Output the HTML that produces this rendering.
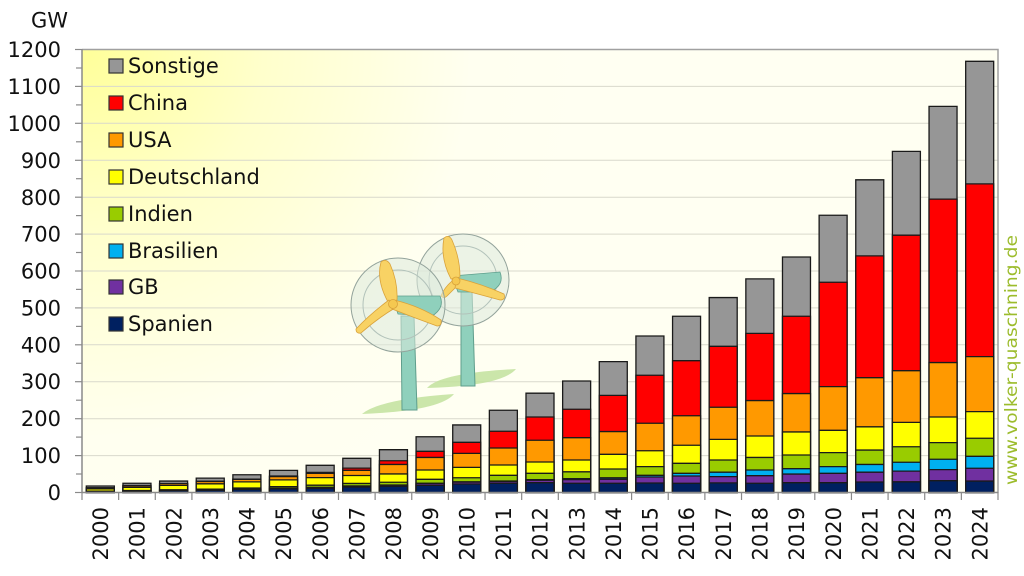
<!DOCTYPE html>
<html>
<head>
<meta charset="utf-8">
<style>
html,body{margin:0;padding:0;background:#fff;}
svg{display:block;}
text{font-family:"DejaVu Sans","Liberation Sans",sans-serif;fill:#111;}
.bars rect{vector-effect:non-scaling-stroke;stroke:#1a1a1a;stroke-width:1.3;}
.s{fill:#969696}.c{fill:#ff0000}.u{fill:#ff9900}.d{fill:#ffff00}
.i{fill:#99cc00}.b{fill:#00b0f0}.g{fill:#7030a0}.e{fill:#002060}
</style>
</head>
<body>
<svg width="1024" height="576" viewBox="0 0 1024 576" xmlns="http://www.w3.org/2000/svg">
<defs>
<radialGradient id="bg" cx="82" cy="49" r="520" gradientUnits="userSpaceOnUse">
<stop offset="0" stop-color="#ffff99"/>
<stop offset="0.35" stop-color="#ffffcc"/>
<stop offset="0.75" stop-color="#fffff0"/>
<stop offset="1" stop-color="#fffff2"/>
</radialGradient>
</defs>
<rect x="82" y="49.5" width="916" height="443" fill="url(#bg)"/>
<!-- gridlines -->
<g stroke="#d9d9cc" stroke-width="1">
<line x1="82" x2="998" y1="455.6" y2="455.6"/>
<line x1="82" x2="998" y1="418.7" y2="418.7"/>
<line x1="82" x2="998" y1="381.7" y2="381.7"/>
<line x1="82" x2="998" y1="344.8" y2="344.8"/>
<line x1="82" x2="998" y1="307.9" y2="307.9"/>
<line x1="82" x2="998" y1="271.0" y2="271.0"/>
<line x1="82" x2="998" y1="234.1" y2="234.1"/>
<line x1="82" x2="998" y1="197.2" y2="197.2"/>
<line x1="82" x2="998" y1="160.3" y2="160.3"/>
<line x1="82" x2="998" y1="123.3" y2="123.3"/>
<line x1="82" x2="998" y1="86.4" y2="86.4"/>
</g>
<!-- plot border -->
<polyline points="82,49.5 998,49.5 998,492.5" fill="none" stroke="#a0a0a0" stroke-width="1.5"/>

<!-- wind turbines -->
<g>
<path d="M427,388 Q440,373 516,369 Q502,386 427,388 Z" fill="#c2e29e" opacity="0.85"/>
<polygon points="461,290 472,290 475,386 461,386" fill="#8fd0bc" stroke="#5f9e8c" stroke-width="1"/>
<circle cx="463" cy="280" r="46" fill="#dde9dc" fill-opacity="0.55" stroke="#93a39b" stroke-width="1"/>
<circle cx="463" cy="280" r="34" fill="none" stroke="#b2c2ba" stroke-width="1"/>
<path d="M452,276 L500,272 Q505,285 490,292 L458,292 Z" fill="#8fd0bc" stroke="#5f9e8c" stroke-width="0.8"/>
<path d="M451,279 Q440,258 444,238 Q449,234 452,240 Q460,258 460,277 Z" fill="#f8d264" stroke="#d9a23a" stroke-width="0.8"/>
<path d="M452,281 Q444,288 441,296 Q444,299 447,296 Q453,290 458,285 Z" fill="#f8d264" stroke="#d9a23a" stroke-width="0.8"/>
<path d="M457,278 Q482,284 504,294 Q506,300 500,300 Q478,294 455,288 Z" fill="#f8d264" stroke="#d9a23a" stroke-width="0.8"/>
<circle cx="456" cy="281" r="4" fill="#f5c850" stroke="#d9a23a" stroke-width="0.8"/>

<path d="M362,414 Q380,399 454,394 Q440,411 362,414 Z" fill="#c2e29e" opacity="0.85"/>
<polygon points="401,316 414,316 417,410 402,410" fill="#8fd0bc" stroke="#5f9e8c" stroke-width="1"/>
<circle cx="398" cy="305" r="47" fill="#dde9dc" fill-opacity="0.55" stroke="#93a39b" stroke-width="1"/>
<circle cx="398" cy="305" r="35" fill="none" stroke="#b2c2ba" stroke-width="1"/>
<path d="M392,296 L440,296 Q445,308 432,316 L398,314 Z" fill="#8fd0bc" stroke="#5f9e8c" stroke-width="0.8"/>
<path d="M388,302 Q376,280 381,262 Q386,258 390,264 Q398,282 397,300 Z" fill="#f8d264" stroke="#d9a23a" stroke-width="0.8"/>
<path d="M389,300 Q370,314 356,329 Q356,334 361,333 Q378,318 395,308 Z" fill="#f8d264" stroke="#d9a23a" stroke-width="0.8"/>
<path d="M394,300 Q420,306 441,320 Q442,326 437,326 Q415,318 392,309 Z" fill="#f8d264" stroke="#d9a23a" stroke-width="0.8"/>
<circle cx="393" cy="304" r="4.5" fill="#f5c850" stroke="#d9a23a" stroke-width="0.8"/>
</g>

<!-- bars -->
<g class="bars" transform="translate(0,492.5) scale(1,-0.369167)">
<g transform="translate(86.32,0)"><rect class="s" width="28" height="17.6"/><rect class="c" width="28" height="12.75"/><rect class="u" width="28" height="12.4"/><rect class="d" width="28" height="9.9"/><rect class="i" width="28" height="3.8"/><rect class="g" width="28" height="2.6"/><rect class="e" width="28" height="2.2"/></g>
<g transform="translate(122.96,0)"><rect class="s" width="28" height="25"/><rect class="c" width="28" height="18.8"/><rect class="u" width="28" height="18.4"/><rect class="d" width="28" height="14.1"/><rect class="i" width="28" height="5.3"/><rect class="g" width="28" height="3.8"/><rect class="e" width="28" height="3.3"/></g>
<g transform="translate(159.60,0)"><rect class="s" width="28" height="31"/><rect class="c" width="28" height="24.45"/><rect class="u" width="28" height="23.95"/><rect class="d" width="28" height="19.25"/><rect class="i" width="28" height="7.25"/><rect class="g" width="28" height="5.55"/><rect class="e" width="28" height="5"/></g>
<g transform="translate(196.24,0)"><rect class="s" width="28" height="39"/><rect class="c" width="28" height="30.55"/><rect class="u" width="28" height="29.95"/><rect class="d" width="28" height="23.55"/><rect class="i" width="28" height="8.95"/><rect class="g" width="28" height="6.85"/><rect class="e" width="28" height="6.2"/></g>
<g transform="translate(232.88,0)"><rect class="s" width="28" height="48"/><rect class="c" width="28" height="36.3"/><rect class="u" width="28" height="35.5"/><rect class="d" width="28" height="28.8"/><rect class="i" width="28" height="12.2"/><rect class="g" width="28" height="9.2"/><rect class="e" width="28" height="8.3"/></g>
<g transform="translate(269.52,0)"><rect class="s" width="28" height="60"/><rect class="c" width="28" height="44.5"/><rect class="u" width="28" height="43.2"/><rect class="d" width="28" height="34.1"/><rect class="i" width="28" height="15.7"/><rect class="g" width="28" height="11.3"/><rect class="e" width="28" height="10"/></g>
<g transform="translate(306.16,0)"><rect class="s" width="28" height="73.7"/><rect class="c" width="28" height="54.5"/><rect class="u" width="28" height="51.9"/><rect class="d" width="28" height="40.3"/><rect class="i" width="28" height="19.8"/><rect class="b" width="28" height="13.8"/><rect class="g" width="28" height="13.6"/><rect class="e" width="28" height="11.6"/></g>
<g transform="translate(342.80,0)"><rect class="s" width="28" height="92.6"/><rect class="c" width="28" height="66.1"/><rect class="u" width="28" height="60.1"/><rect class="d" width="28" height="46.1"/><rect class="i" width="28" height="24.6"/><rect class="b" width="28" height="17.6"/><rect class="g" width="28" height="17.4"/><rect class="e" width="28" height="15"/></g>
<g transform="translate(379.44,0)"><rect class="s" width="28" height="116"/><rect class="c" width="28" height="86"/><rect class="u" width="28" height="76"/><rect class="d" width="28" height="50.3"/><rect class="i" width="28" height="27.8"/><rect class="b" width="28" height="20.3"/><rect class="g" width="28" height="20"/><rect class="e" width="28" height="17"/></g>
<g transform="translate(416.08,0)"><rect class="s" width="28" height="151"/><rect class="c" width="28" height="111.6"/><rect class="u" width="28" height="95"/><rect class="d" width="28" height="61"/><rect class="i" width="28" height="35.7"/><rect class="b" width="28" height="25.1"/><rect class="g" width="28" height="24.5"/><rect class="e" width="28" height="19.5"/></g>
<g transform="translate(452.72,0)"><rect class="s" width="28" height="183"/><rect class="c" width="28" height="136"/><rect class="u" width="28" height="106"/><rect class="d" width="28" height="68"/><rect class="i" width="28" height="40"/><rect class="b" width="28" height="29"/><rect class="g" width="28" height="28.2"/><rect class="e" width="28" height="23"/></g>
<g transform="translate(489.36,0)"><rect class="s" width="28" height="222.7"/><rect class="c" width="28" height="166"/><rect class="u" width="28" height="120.6"/><rect class="d" width="28" height="74.5"/><rect class="i" width="28" height="46.6"/><rect class="b" width="28" height="31"/><rect class="g" width="28" height="30"/><rect class="e" width="28" height="25"/></g>
<g transform="translate(526.00,0)"><rect class="s" width="28" height="269"/><rect class="c" width="28" height="204.6"/><rect class="u" width="28" height="141.5"/><rect class="d" width="28" height="82.7"/><rect class="i" width="28" height="52"/><rect class="b" width="28" height="34.7"/><rect class="g" width="28" height="33.1"/><rect class="e" width="28" height="26.6"/></g>
<g transform="translate(562.64,0)"><rect class="s" width="28" height="302"/><rect class="c" width="28" height="225.5"/><rect class="u" width="28" height="148.5"/><rect class="d" width="28" height="88"/><rect class="i" width="28" height="56"/><rect class="b" width="28" height="37.4"/><rect class="g" width="28" height="34.9"/><rect class="e" width="28" height="25"/></g>
<g transform="translate(599.28,0)"><rect class="s" width="28" height="354.5"/><rect class="c" width="28" height="263"/><rect class="u" width="28" height="165"/><rect class="d" width="28" height="103.5"/><rect class="i" width="28" height="63.7"/><rect class="b" width="28" height="40"/><rect class="g" width="28" height="36"/><rect class="e" width="28" height="25"/></g>
<g transform="translate(635.92,0)"><rect class="s" width="28" height="424"/><rect class="c" width="28" height="317.6"/><rect class="u" width="28" height="187.5"/><rect class="d" width="28" height="113"/><rect class="i" width="28" height="70"/><rect class="b" width="28" height="46.6"/><rect class="g" width="28" height="42"/><rect class="e" width="28" height="25.7"/></g>
<g transform="translate(672.56,0)"><rect class="s" width="28" height="477.5"/><rect class="c" width="28" height="357"/><rect class="u" width="28" height="208"/><rect class="d" width="28" height="128"/><rect class="i" width="28" height="79"/><rect class="b" width="28" height="52"/><rect class="g" width="28" height="44.7"/><rect class="e" width="28" height="25"/></g>
<g transform="translate(709.20,0)"><rect class="s" width="28" height="528"/><rect class="c" width="28" height="396"/><rect class="u" width="28" height="231"/><rect class="d" width="28" height="144"/><rect class="i" width="28" height="88"/><rect class="b" width="28" height="55"/><rect class="g" width="28" height="43"/><rect class="e" width="28" height="26"/></g>
<g transform="translate(745.84,0)"><rect class="s" width="28" height="578.6"/><rect class="c" width="28" height="431"/><rect class="u" width="28" height="249"/><rect class="d" width="28" height="153"/><rect class="i" width="28" height="95"/><rect class="b" width="28" height="61"/><rect class="g" width="28" height="45.6"/><rect class="e" width="28" height="25"/></g>
<g transform="translate(782.48,0)"><rect class="s" width="28" height="638"/><rect class="c" width="28" height="477.5"/><rect class="u" width="28" height="268"/><rect class="d" width="28" height="164"/><rect class="i" width="28" height="101.6"/><rect class="b" width="28" height="64.5"/><rect class="g" width="28" height="50"/><rect class="e" width="28" height="26.6"/></g>
<g transform="translate(819.12,0)"><rect class="s" width="28" height="751"/><rect class="c" width="28" height="569.6"/><rect class="u" width="28" height="286.7"/><rect class="d" width="28" height="168.5"/><rect class="i" width="28" height="108"/><rect class="b" width="28" height="70"/><rect class="g" width="28" height="52"/><rect class="e" width="28" height="26.6"/></g>
<g transform="translate(855.76,0)"><rect class="s" width="28" height="847"/><rect class="c" width="28" height="641"/><rect class="u" width="28" height="311"/><rect class="d" width="28" height="178"/><rect class="i" width="28" height="115"/><rect class="b" width="28" height="76"/><rect class="g" width="28" height="55"/><rect class="e" width="28" height="28.5"/></g>
<g transform="translate(892.40,0)"><rect class="s" width="28" height="924"/><rect class="c" width="28" height="697"/><rect class="u" width="28" height="330"/><rect class="d" width="28" height="190"/><rect class="i" width="28" height="124"/><rect class="b" width="28" height="82"/><rect class="g" width="28" height="58"/><rect class="e" width="28" height="29"/></g>
<g transform="translate(929.04,0)"><rect class="s" width="28" height="1046"/><rect class="c" width="28" height="794.6"/><rect class="u" width="28" height="352"/><rect class="d" width="28" height="204.6"/><rect class="i" width="28" height="135"/><rect class="b" width="28" height="90"/><rect class="g" width="28" height="62"/><rect class="e" width="28" height="32"/></g>
<g transform="translate(965.68,0)"><rect class="s" width="28" height="1168"/><rect class="c" width="28" height="836"/><rect class="u" width="28" height="368"/><rect class="d" width="28" height="219"/><rect class="i" width="28" height="147"/><rect class="b" width="28" height="98"/><rect class="g" width="28" height="65.6"/><rect class="e" width="28" height="31"/></g>
</g>

<!-- axes -->
<g stroke="#8a8a8a" stroke-width="1.5" fill="none">
<line x1="82" y1="49" x2="82" y2="493"/>
<line x1="82" y1="492.5" x2="998" y2="492.5"/>
</g>
<g stroke="#8a8a8a" stroke-width="1.2">
<line x1="75" x2="82" y1="492.5" y2="492.5"/><line x1="76" x2="82" y1="474" y2="474"/>
<line x1="75" x2="82" y1="455.6" y2="455.6"/><line x1="76" x2="82" y1="437.1" y2="437.1"/>
<line x1="75" x2="82" y1="418.7" y2="418.7"/><line x1="76" x2="82" y1="400.2" y2="400.2"/>
<line x1="75" x2="82" y1="381.7" y2="381.7"/><line x1="76" x2="82" y1="363.3" y2="363.3"/>
<line x1="75" x2="82" y1="344.8" y2="344.8"/><line x1="76" x2="82" y1="326.4" y2="326.4"/>
<line x1="75" x2="82" y1="307.9" y2="307.9"/><line x1="76" x2="82" y1="289.4" y2="289.4"/>
<line x1="75" x2="82" y1="271.0" y2="271.0"/><line x1="76" x2="82" y1="252.5" y2="252.5"/>
<line x1="75" x2="82" y1="234.1" y2="234.1"/><line x1="76" x2="82" y1="215.6" y2="215.6"/>
<line x1="75" x2="82" y1="197.2" y2="197.2"/><line x1="76" x2="82" y1="178.7" y2="178.7"/>
<line x1="75" x2="82" y1="160.3" y2="160.3"/><line x1="76" x2="82" y1="141.8" y2="141.8"/>
<line x1="75" x2="82" y1="123.3" y2="123.3"/><line x1="76" x2="82" y1="104.9" y2="104.9"/>
<line x1="75" x2="82" y1="86.4" y2="86.4"/><line x1="76" x2="82" y1="68.0" y2="68.0"/>
<line x1="75" x2="82" y1="49.5" y2="49.5"/>
</g>
<g stroke="#8a8a8a" stroke-width="1.2">
<line x1="82" x2="82" y1="492" y2="500"/>
<line x1="118.64" x2="118.64" y1="492" y2="500"/><line x1="155.28" x2="155.28" y1="492" y2="500"/>
<line x1="191.92" x2="191.92" y1="492" y2="500"/><line x1="228.56" x2="228.56" y1="492" y2="500"/>
<line x1="265.2" x2="265.2" y1="492" y2="500"/><line x1="301.84" x2="301.84" y1="492" y2="500"/>
<line x1="338.48" x2="338.48" y1="492" y2="500"/><line x1="375.12" x2="375.12" y1="492" y2="500"/>
<line x1="411.76" x2="411.76" y1="492" y2="500"/><line x1="448.4" x2="448.4" y1="492" y2="500"/>
<line x1="485.04" x2="485.04" y1="492" y2="500"/><line x1="521.68" x2="521.68" y1="492" y2="500"/>
<line x1="558.32" x2="558.32" y1="492" y2="500"/><line x1="594.96" x2="594.96" y1="492" y2="500"/>
<line x1="631.6" x2="631.6" y1="492" y2="500"/><line x1="668.24" x2="668.24" y1="492" y2="500"/>
<line x1="704.88" x2="704.88" y1="492" y2="500"/><line x1="741.52" x2="741.52" y1="492" y2="500"/>
<line x1="778.16" x2="778.16" y1="492" y2="500"/><line x1="814.8" x2="814.8" y1="492" y2="500"/>
<line x1="851.44" x2="851.44" y1="492" y2="500"/><line x1="888.08" x2="888.08" y1="492" y2="500"/>
<line x1="924.72" x2="924.72" y1="492" y2="500"/><line x1="961.36" x2="961.36" y1="492" y2="500"/>
<line x1="998" x2="998" y1="492" y2="500"/>
</g>

<!-- y labels -->
<g font-size="21" text-anchor="end">
<text x="68" y="27.5">GW</text>
<text x="61" y="57">1200</text>
<text x="61" y="94">1100</text>
<text x="61" y="131">1000</text>
<text x="61" y="168">900</text>
<text x="61" y="205">800</text>
<text x="61" y="241.5">700</text>
<text x="61" y="278.5">600</text>
<text x="61" y="315.5">500</text>
<text x="61" y="352.5">400</text>
<text x="61" y="389">300</text>
<text x="61" y="426">200</text>
<text x="61" y="463">100</text>
<text x="61" y="500">0</text>
</g>

<!-- x labels -->
<g font-size="21" text-anchor="end">
<text transform="translate(108,507) rotate(-90)">2000</text>
<text transform="translate(144.6,507) rotate(-90)">2001</text>
<text transform="translate(181.3,507) rotate(-90)">2002</text>
<text transform="translate(217.9,507) rotate(-90)">2003</text>
<text transform="translate(254.6,507) rotate(-90)">2004</text>
<text transform="translate(291.2,507) rotate(-90)">2005</text>
<text transform="translate(327.8,507) rotate(-90)">2006</text>
<text transform="translate(364.5,507) rotate(-90)">2007</text>
<text transform="translate(401.1,507) rotate(-90)">2008</text>
<text transform="translate(437.8,507) rotate(-90)">2009</text>
<text transform="translate(474.4,507) rotate(-90)">2010</text>
<text transform="translate(511.0,507) rotate(-90)">2011</text>
<text transform="translate(547.7,507) rotate(-90)">2012</text>
<text transform="translate(584.3,507) rotate(-90)">2013</text>
<text transform="translate(621.0,507) rotate(-90)">2014</text>
<text transform="translate(657.6,507) rotate(-90)">2015</text>
<text transform="translate(694.2,507) rotate(-90)">2016</text>
<text transform="translate(730.9,507) rotate(-90)">2017</text>
<text transform="translate(767.5,507) rotate(-90)">2018</text>
<text transform="translate(804.2,507) rotate(-90)">2019</text>
<text transform="translate(840.8,507) rotate(-90)">2020</text>
<text transform="translate(877.4,507) rotate(-90)">2021</text>
<text transform="translate(914.1,507) rotate(-90)">2022</text>
<text transform="translate(950.7,507) rotate(-90)">2023</text>
<text transform="translate(987.4,507) rotate(-90)">2024</text>
</g>

<!-- legend -->
<g stroke="#333" stroke-width="1.2">
<rect x="109" y="59" width="14" height="14" fill="#969696"/>
<rect x="109" y="96" width="14" height="14" fill="#ff0000"/>
<rect x="109" y="133" width="14" height="14" fill="#ff9900"/>
<rect x="109" y="170" width="14" height="14" fill="#ffff00"/>
<rect x="109" y="207" width="14" height="14" fill="#99cc00"/>
<rect x="109" y="244" width="14" height="14" fill="#00b0f0"/>
<rect x="109" y="280" width="14" height="14" fill="#7030a0"/>
<rect x="109" y="317" width="14" height="14" fill="#002060"/>
</g>
<g font-size="21">
<text x="128" y="73">Sonstige</text>
<text x="128" y="110">China</text>
<text x="128" y="147">USA</text>
<text x="128" y="184">Deutschland</text>
<text x="128" y="221">Indien</text>
<text x="128" y="258">Brasilien</text>
<text x="128" y="294">GB</text>
<text x="128" y="331">Spanien</text>
</g>

<!-- watermark -->
<text transform="translate(1017,485) rotate(-90)" font-size="17" style="fill:#9cbc2c" textLength="250" lengthAdjust="spacingAndGlyphs">www.volker-quaschning.de</text>
</svg>
</body>
</html>
